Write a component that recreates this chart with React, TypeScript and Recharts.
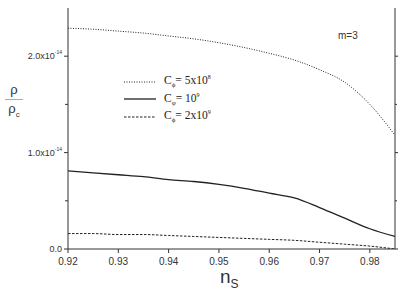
import { LineChart, Line, XAxis, YAxis } from 'recharts';

const nS = [0.92, 0.925, 0.93, 0.935, 0.94, 0.945, 0.95, 0.955, 0.96, 0.965, 0.97, 0.975, 0.98, 0.985];
// rho / rho_c in units of 1e-14
const c5e8 = [2.29, 2.28, 2.26, 2.24, 2.21, 2.18, 2.14, 2.09, 2.03, 1.96, 1.86, 1.73, 1.5, 1.18];
const c1e9 = [0.81, 0.79, 0.77, 0.75, 0.72, 0.7, 0.67, 0.63, 0.58, 0.53, 0.43, 0.32, 0.21, 0.13];
const c2e9 = [0.16, 0.16, 0.15, 0.15, 0.14, 0.13, 0.12, 0.11, 0.1, 0.09, 0.07, 0.05, 0.03, 0.0];

const xTicks = [0.92, 0.925, 0.93, 0.935, 0.94, 0.945, 0.95, 0.955, 0.96, 0.965, 0.97, 0.975, 0.98];
const xMajor = [0.92, 0.93, 0.94, 0.95, 0.96, 0.97, 0.98];
const yTicks = [0, 0.5, 1, 1.5, 2];
const yMajor = [0, 1, 2];

const data = nS.map((x, i) => ({ x, a: c5e8[i], b: c1e9[i], c: c2e9[i] }));

const isMajor = (list: number[], v: number) => list.some((m) => Math.abs(m - v) < 1e-9);
const INK = '#333';

const BottomTick = ({ x, y, payload }: any) => {
  const major = isMajor(xMajor, payload.value);
  return (
    <g>
      <line x1={x} x2={x} y1={y} y2={y + (major ? 4 : 2)} stroke={INK} />
      {major && (
        <text x={x} y={y + 16} textAnchor="middle" fontSize={10} fill={INK} fontFamily="Liberation Sans">
          {payload.value.toFixed(2)}
        </text>
      )}
    </g>
  );
};

const TopTick = ({ x, y, payload }: any) => {
  const major = isMajor(xMajor, payload.value);
  return <line x1={x} x2={x} y1={y} y2={y + (major ? 4 : 2)} stroke={INK} />;
};

const LeftTick = ({ x, y, payload }: any) => {
  const major = isMajor(yMajor, payload.value);
  return (
    <g>
      <line x1={x} x2={x - (major ? 4 : 3)} y1={y} y2={y} stroke={INK} />
      {major && (
        <text x={x - 6} y={y + 3} textAnchor="end" fontSize={9} fill={INK} fontFamily="Liberation Sans">
          {payload.value === 0 ? '0.0' : `${payload.value.toFixed(1)}x10`}
          {payload.value !== 0 && <tspan fontSize={5} dy={-5}>-14</tspan>}
        </text>
      )}
    </g>
  );
};

const RightTick = ({ x, y, payload }: any) => {
  const major = isMajor(yMajor, payload.value);
  return <line x1={x} x2={x + (major ? 3 : 2)} y1={y} y2={y} stroke={INK} />;
};

const legendRows = [
  { dash: '1 1.5', w: 1, label: '5x10', sup: '8', sub: 'ϕ' },
  { dash: undefined, w: 1.3, label: '10', sup: '9', sub: 'φ' },
  { dash: '2.5 1.5', w: 1, label: '2x10', sup: '9', sub: 'ϕ' },
];

const LegendBox = () => (
  <div style={{ position: 'absolute', left: 124, top: 73, fontFamily: 'Liberation Serif', fontSize: 11.5, color: '#222' }}>
    {legendRows.map((r, i) => (
      <div key={i} style={{ display: 'flex', alignItems: 'center', height: 17.5 }}>
        <svg width={32} height={6} style={{ marginRight: 8 }}>
          <line x1={0} x2={32} y1={3} y2={3} stroke="#222" strokeWidth={r.w} strokeDasharray={r.dash} />
        </svg>
        <span>
          C<sub style={{ fontSize: 7 }}>{r.sub}</sub>= {r.label}
          <sup style={{ fontSize: 6 }}>{r.sup}</sup>
        </span>
      </div>
    ))}
  </div>
);

export default function App() {
  return (
    <div style={{ position: 'absolute', left: 0, top: 0, width: 415, height: 295, background: '#fff' }}>
      <LineChart width={415} height={295} data={data} margin={{ top: 8, right: 17, left: 8, bottom: 0 }}>
        <XAxis
          dataKey="x"
          type="number"
          domain={[0.92, 0.985]}
          ticks={xTicks}
          allowDataOverflow
          stroke={INK}
          tickLine={false}
          tickSize={0}
          tickMargin={0}
          tick={<BottomTick />}
          height={46}
        />
        <XAxis
          xAxisId="top"
          dataKey="x"
          type="number"
          orientation="top"
          domain={[0.92, 0.985]}
          ticks={xTicks}
          allowDataOverflow
          stroke={INK}
          tickLine={false}
          tickSize={0}
          tickMargin={0}
          tick={<TopTick />}
          height={0}
        />
        <YAxis
          type="number"
          domain={[0, 2.5]}
          ticks={yTicks}
          allowDataOverflow
          stroke={INK}
          tickLine={false}
          tickSize={0}
          tickMargin={0}
          tick={<LeftTick />}
          width={60}
        />
        <YAxis
          yAxisId="right"
          orientation="right"
          type="number"
          domain={[0, 2.5]}
          ticks={yTicks}
          allowDataOverflow
          stroke={INK}
          tickLine={false}
          tickSize={0}
          tickMargin={0}
          tick={<RightTick />}
          width={3}
        />
        <Line xAxisId="top" dataKey="a" type="monotone" stroke="#222" strokeWidth={1} strokeDasharray="1 1.5" dot={false} isAnimationActive={false} />
        <Line dataKey="b" type="monotone" stroke="#222" strokeWidth={1.3} dot={false} isAnimationActive={false} />
        <Line yAxisId="right" dataKey="c" type="monotone" stroke="#222" strokeWidth={1} strokeDasharray="2.5 1.5" dot={false} isAnimationActive={false} />
      </LineChart>
      <LegendBox />
      <div style={{ position: 'absolute', left: 338, top: 30, fontFamily: 'Liberation Sans', fontSize: 10, color: INK }}>m=3</div>
      <div style={{ position: 'absolute', left: 220, top: 267, fontFamily: 'Liberation Sans', fontSize: 19, lineHeight: '20px', color: INK }}>
        n<sub style={{ fontSize: 12, lineHeight: 0 }}>S</sub>
      </div>
      <div style={{ position: 'absolute', left: 5, top: 83, fontFamily: 'Liberation Sans', fontSize: 13, color: INK, textAlign: 'center', width: 18 }}>
        <div style={{ lineHeight: '14px' }}>ρ</div>
        <div style={{ borderTop: '1px solid #aaa', margin: '2px 0' }} />
        <div style={{ lineHeight: '14px' }}>
          ρ<sub style={{ fontSize: 8 }}>c</sub>
        </div>
      </div>
    </div>
  );
}
